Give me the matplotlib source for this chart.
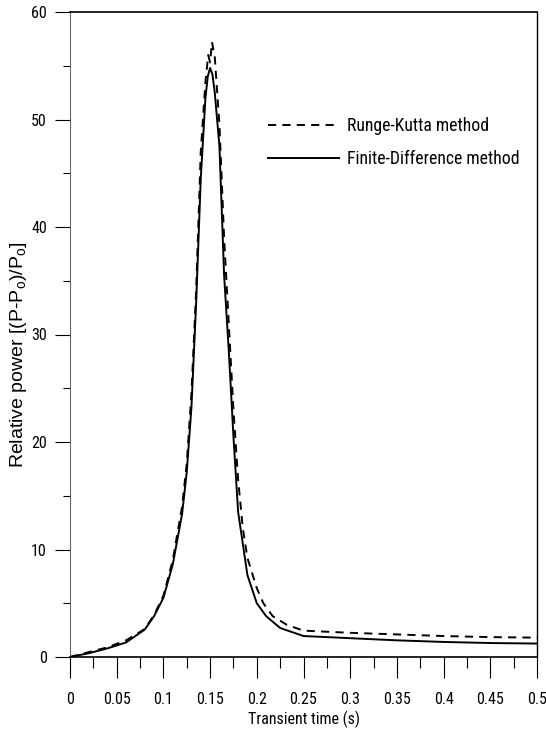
import matplotlib
matplotlib.use('Agg')
import matplotlib.pyplot as plt
from matplotlib.ticker import MultipleLocator

# Finite-Difference method (solid)
t_fd = [0, 0.02, 0.04, 0.06, 0.08, 0.09, 0.1, 0.11, 0.12, 0.125, 0.13, 0.135,
        0.14, 0.145, 0.1475, 0.15, 0.1525, 0.155, 0.16, 0.165, 0.17, 0.175,
        0.18, 0.19, 0.2, 0.21, 0.225, 0.25, 0.3, 0.35, 0.4, 0.45, 0.5]
p_fd = [0, 0.35, 0.8, 1.35, 2.55, 3.8, 5.5, 8.6, 13.3, 17.2, 23.2, 32.8,
        44.5, 52.0, 54.0, 54.8, 54.2, 52.5, 47.5, 35.5, 28.5, 20.5,
        13.5, 7.6, 5.0, 3.8, 2.7, 1.95, 1.75, 1.55, 1.4, 1.3, 1.25]

# Runge-Kutta method (dashed)
t_rk = [0, 0.02, 0.04, 0.06, 0.08, 0.09, 0.1, 0.11, 0.12, 0.125, 0.13, 0.135,
        0.14, 0.145, 0.148, 0.15, 0.152, 0.155, 0.16, 0.165, 0.17, 0.175, 0.18,
        0.185, 0.19, 0.2, 0.207, 0.217, 0.232, 0.25, 0.3, 0.35, 0.4, 0.45, 0.5]
p_rk = [0, 0.45, 0.9, 1.55, 2.6, 3.9, 5.7, 9.0, 14.0, 18.0, 24.5, 34.0,
        47.0, 53.5, 56.0, 55.3, 57.2, 55.8, 49.5, 39.0, 31.0, 23.0, 16.5,
        12.0, 9.2, 6.4, 5.0, 3.8, 3.0, 2.45, 2.25, 2.1, 1.95, 1.85, 1.8]

xtick_labels = ['0', '0.05', '0.1', '0.15', '0.2', '0.25', '0.3', '0.35',
                '0.4', '0.45', '0.5']

plt.rcParams['font.family'] = ['Roboto Condensed', 'Liberation Sans', 'DejaVu Sans']
plt.rcParams['mathtext.fontset'] = 'custom'
plt.rcParams['mathtext.rm'] = 'Liberation Sans'

fig = plt.figure(figsize=(5.46, 7.33), dpi=100)
ax = fig.add_axes([70 / 546, 76 / 733, 467 / 546, 645 / 733])

ax.plot(t_rk, p_rk, color='black', lw=1.4, linestyle=(0, (4.2, 3.2)),
        label='Runge-Kutta method')
ax.plot(t_fd, p_fd, color='black', lw=1.4, label='Finite-Difference method')

ax.set_xlim(0, 0.5)
ax.set_ylim(0, 60)
ax.xaxis.set_minor_locator(MultipleLocator(0.025))
ax.yaxis.set_major_locator(MultipleLocator(10))
ax.yaxis.set_minor_locator(MultipleLocator(5))
ax.set_xticks([float(s) for s in xtick_labels])
ax.set_xticklabels(xtick_labels)

ax.tick_params(axis='x', which='major', direction='out', length=15, width=0.8,
               pad=10, labelsize=11.5)
ax.tick_params(axis='x', which='minor', direction='out', length=7.7, width=0.8)
ax.tick_params(axis='y', which='major', direction='out', length=10.8, width=0.8,
               pad=5.8, labelsize=11.5)
ax.tick_params(axis='y', which='minor', direction='out', length=5, width=0.8)

ax.spines['left'].set_color('#666666')
ax.spines['left'].set_linewidth(0.8)
ax.spines['top'].set_linewidth(1.2)
ax.spines['right'].set_linewidth(1.0)
ax.spines['bottom'].set_linewidth(1.2)

ax.set_xlabel('Transient time (s)', fontsize=11.5, va='top')
ax.xaxis.set_label_coords(0.5, -0.083)
ax.set_ylabel(r'Relative power [(P-P$_\mathrm{o}$)/P$_\mathrm{o}$]',
              fontsize=14, family=['Liberation Sans', 'DejaVu Sans'])
ax.yaxis.set_label_coords(-0.088, 0.468)

ax.legend(loc='upper left', bbox_to_anchor=(198 / 467, 1 - 105 / 645),
          frameon=False, fontsize=12.7, handlelength=4.0, handletextpad=0.5,
          labelspacing=0.85, borderpad=0, borderaxespad=0)

fig.savefig('out.png', dpi=100)
